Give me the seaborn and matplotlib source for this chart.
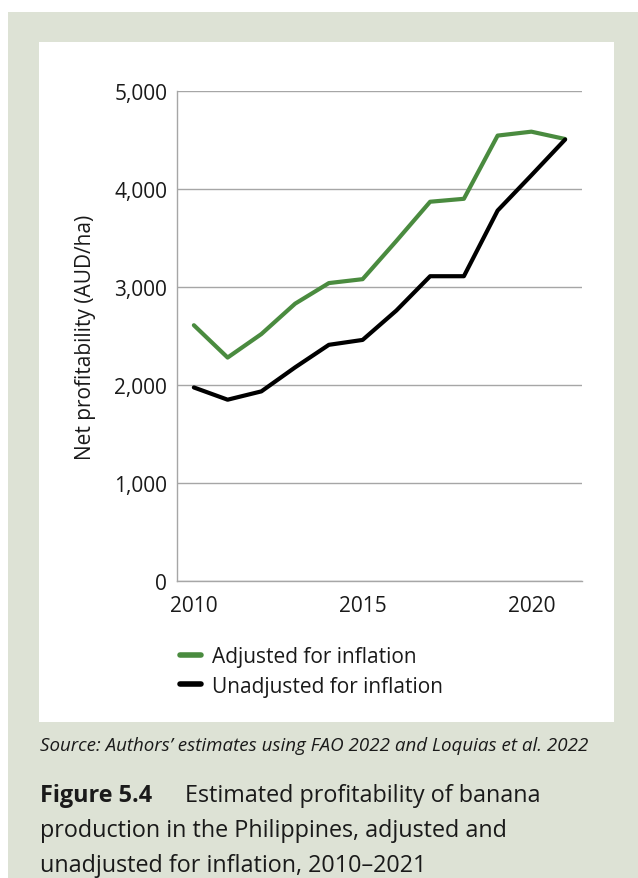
import matplotlib
matplotlib.use("Agg")
import matplotlib.pyplot as plt
from matplotlib.patches import Rectangle
from matplotlib.ticker import FuncFormatter
import seaborn as sns
import pandas as pd

# data (AUD/ha)
years = list(range(2010, 2022))
adjusted = [2610, 2280, 2520, 2830, 3040, 3080, 3470, 3870, 3900, 4545, 4585, 4510]
unadjusted = [1975, 1850, 1935, 2180, 2410, 2460, 2760, 3110, 3110, 3780, 4140, 4505]
series_names = ["Adjusted for inflation", "Unadjusted for inflation"]
y_ticks = [0, 1000, 2000, 3000, 4000, 5000]
x_ticks = [2010, 2015, 2020]

GREEN = "#4a8b3f"
PANEL_BG = "#dde2d5"

df = pd.DataFrame({
    "year": years * 2,
    "value": adjusted + unadjusted,
    "series": [series_names[0]] * len(years) + [series_names[1]] * len(years),
})

sns.set_theme(style="white")
plt.rcParams["font.family"] = ["Open Sans", "DejaVu Sans"]

W, H = 638, 879
fig = plt.figure(figsize=(W / 100, H / 100), dpi=100)
fig.patch.set_facecolor("white")

# grey-green box and white chart panel
fig.patches.append(Rectangle((8 / W, 0), 1, 1 - 13 / H, transform=fig.transFigure,
                             facecolor=PANEL_BG, edgecolor="none", zorder=-2))
fig.patches.append(Rectangle((39 / W, 1 - 723 / H), (614 - 39) / W, (723 - 43) / H,
                             transform=fig.transFigure, facecolor="white",
                             edgecolor="none", zorder=-1))

ax = fig.add_axes([177 / W, 1 - 582 / H, (582 - 177) / W, (582 - 92) / H])
ax.set_facecolor("none")

sns.lineplot(data=df, x="year", y="value", hue="series",
             palette={series_names[0]: GREEN, series_names[1]: "black"},
             linewidth=3.0, ax=ax, legend=True)

ax.set_xlim(2009.5, 2021.5)
ax.set_ylim(0, 5000)
ax.set_yticks(y_ticks)
ax.set_xticks(x_ticks)
ax.yaxis.set_major_formatter(FuncFormatter(lambda v, p: f"{int(v):,}"))
ax.grid(axis="y", color="#a6a6a6", linewidth=1)
ax.set_axisbelow(True)
for side in ["top", "right"]:
    ax.spines[side].set_visible(False)
for side in ["left", "bottom"]:
    ax.spines[side].set_color("#a6a6a6")
    ax.spines[side].set_linewidth(1)
ax.tick_params(axis="y", length=4, color="#a6a6a6", labelsize=15, labelcolor="#1a1a1a", pad=3)
ax.tick_params(axis="x", length=0, labelsize=15, labelcolor="#1a1a1a", pad=10)
ax.set_xlabel("")
ax.set_ylabel("Net profitability (AUD/ha)", fontsize=15, color="#1a1a1a", labelpad=13)

handles, labels = ax.get_legend_handles_labels()
leg = ax.legend(handles, labels, loc="upper left",
                bbox_to_anchor=(180 / W, 1 - 647 / H), bbox_transform=fig.transFigure,
                frameon=False, fontsize=15, handlelength=1.0, handletextpad=0.55,
                labelspacing=0.42, borderaxespad=0, borderpad=0)
for line in leg.get_lines():
    line.set_linewidth(4)
    line.set_solid_capstyle("round")
for t in leg.get_texts():
    t.set_color("#1a1a1a")

fig.text(40 / W, 1 - 746 / H, "Source: Authors\u2019 estimates using FAO 2022 and Loquias et al. 2022",
         fontsize=13.5, style="italic", color="#1a1a1a", va="center", ha="left")

fig.text(40 / W, 1 - 796 / H, "Figure 5.4", fontsize=16.8, fontweight="bold",
         color="#1a1a1a", va="center", ha="left")
fig.text(185 / W, 1 - 796 / H, "Estimated profitability of banana", fontsize=16.8,
         color="#1a1a1a", va="center", ha="left")
fig.text(40 / W, 1 - 831 / H, "production in the Philippines, adjusted and", fontsize=16.8,
         color="#1a1a1a", va="center", ha="left")
fig.text(40 / W, 1 - 866 / H, "unadjusted for inflation, 2010\u20132021", fontsize=16.8,
         color="#1a1a1a", va="center", ha="left")

fig.savefig("out.png", dpi=100)
